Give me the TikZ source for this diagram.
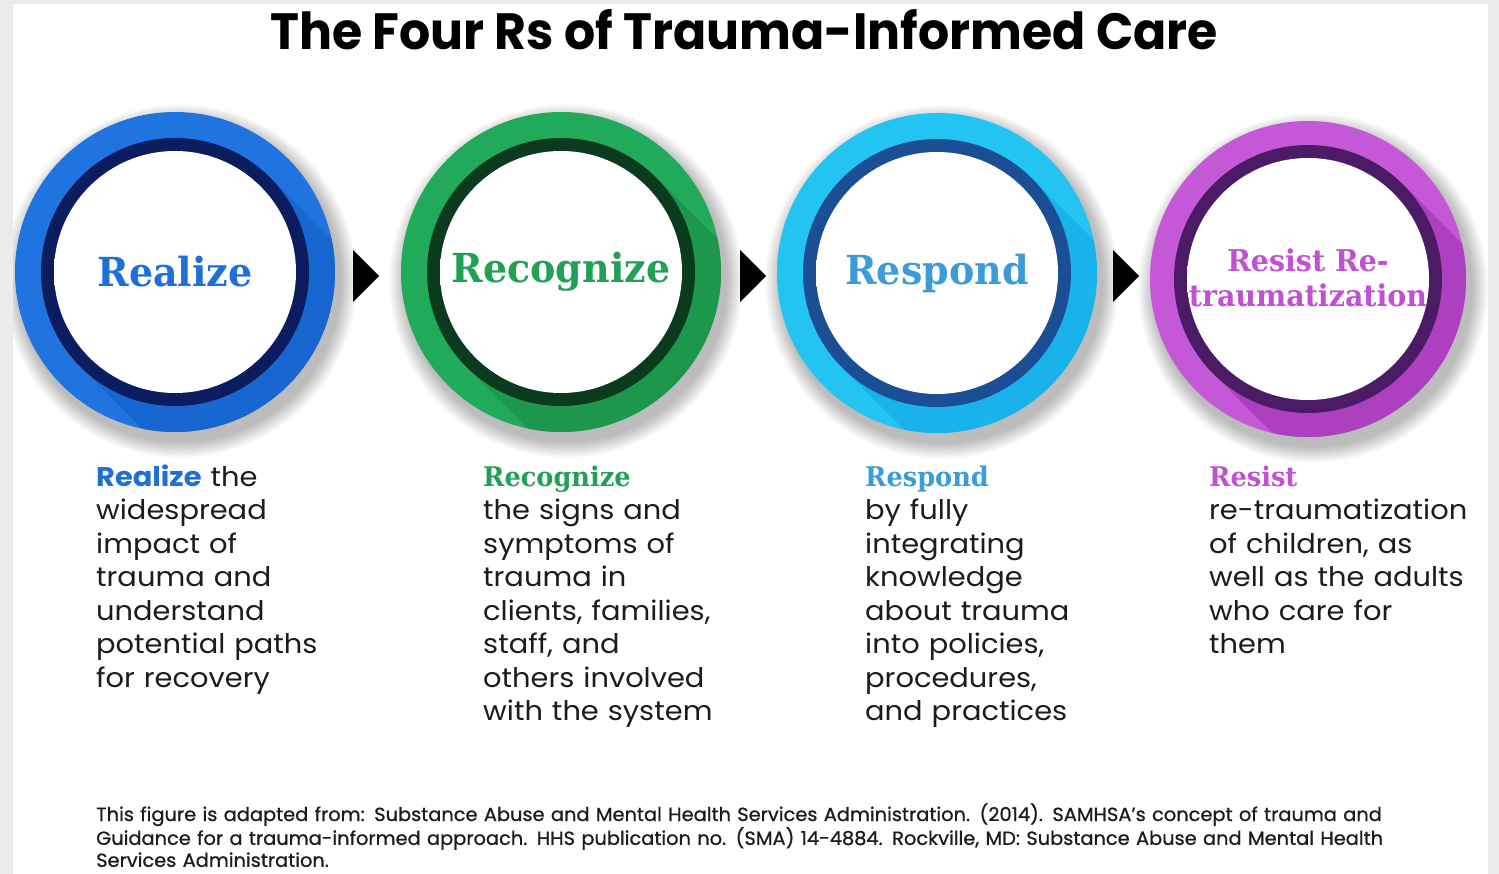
\documentclass[tikz,border=0pt]{standalone}
\usepackage{fontspec}
\setmainfont{Poppins}
\newfontfamily\titlefamily[FakeStretch=0.96]{Poppins}
\newfontfamily\slabfamily[FakeStretch=0.95]{DejaVu Serif}
\newfontfamily\bodyfamily[FakeStretch=1.07]{Poppins}
\newfontfamily\footfamily[FakeStretch=1.02,FakeBold=0.8]{Poppins}
\definecolor{blueL}{HTML}{1F74E0}
\definecolor{blueD}{HTML}{1866CF}
\definecolor{blueN}{HTML}{0B1D5E}
\definecolor{blueT}{HTML}{1F6FD8}
\definecolor{grnL}{HTML}{22AA5B}
\definecolor{grnD}{HTML}{1C974B}
\definecolor{grnN}{HTML}{0A3B1F}
\definecolor{grnT}{HTML}{22A156}
\definecolor{cyL}{HTML}{24C4F2}
\definecolor{cyD}{HTML}{1AB2EA}
\definecolor{cyN}{HTML}{1C4E95}
\definecolor{cyT}{HTML}{3A9CD8}
\definecolor{puL}{HTML}{C458D6}
\definecolor{puD}{HTML}{AC40BE}
\definecolor{puN}{HTML}{4B1B66}
\definecolor{puT}{HTML}{C150D5}
\definecolor{framegray}{HTML}{EBEBEB}
\definecolor{bodyink}{HTML}{1C1C1C}
\pgfdeclareradialshading{diskshade}{\pgfpointorigin}{color(0bp)=(white); color(25bp)=(white); color(35.4bp)=(black!9); color(50bp)=(black!9)}
\tikzset{
  badgelabel/.style={inner sep=0, align=center, font=\slabfamily\bfseries\fontsize{40}{44}\selectfont},
  bodytext/.style={anchor=base west, inner sep=0, text width=330pt, align=left, text=bodyink,
    font=\bodyfamily\fontsize{27}{33.5}\selectfont},
  arrowtri/.style={fill=black},
  shadowlayer/.style={fill=black, opacity=0.02},
}
\newcommand\ringbadge[6]{%
  \begin{scope}[shift={(#1,#2)}]
    \foreach \k in {1,...,14} {\fill[shadowlayer] (5,9) circle ({#6+1.2*\k});}
    \fill[#3] (0,0) circle (#6);
    \begin{scope}
      \clip (0,0) circle (#6);
      \fill[#4] (94.75,-94.75) -- (344.75,155.25) -- (155.25,344.75) -- (-94.75,94.75) -- cycle;
    \end{scope}
    \fill[#5] (0,0) circle (134);
    \shade[shading=diskshade] (0,0) circle (121);
  \end{scope}}
\begin{document}
\begin{tikzpicture}[x=1pt,y=-1pt]
\useasboundingbox (0,0) rectangle (1499,874);
\fill[white] (0,0) rectangle (1499,874);

% badges
\ringbadge{175}{272}{blueL}{blueD}{blueN}{160}
\ringbadge{561}{272}{grnL}{grnD}{grnN}{160}
\ringbadge{937}{273}{cyL}{cyD}{cyN}{160}
\ringbadge{1308}{279}{puL}{puD}{puN}{158}

\node[circle, minimum size=320pt, inner sep=0] (c1) at (175,272) {};
\node[circle, minimum size=320pt, inner sep=0] (c2) at (561,272) {};
\node[circle, minimum size=320pt, inner sep=0] (c3) at (937,273) {};
\node[circle, minimum size=316pt, inner sep=0] (c4) at (1308,279) {};

\node[badgelabel, text=blueT] (l1) at (c1) {Realize};
\node[badgelabel, text=grnT] (l2) at (c2) {Recognize};
\node[badgelabel, text=cyT] (l3) at (c3) {Respond};
\node[badgelabel, text=puT, font=\slabfamily\bfseries\fontsize{30}{35}\selectfont] (l4) at (1308,278) {Resist Re-\\traumatization};

% arrows
\fill[arrowtri] (353,250) -- (379,276) -- (353,302) -- cycle;
\fill[arrowtri] (740,250) -- (766,276) -- (740,302) -- cycle;
\fill[arrowtri] (1113,250) -- (1139,276) -- (1113,302) -- cycle;

% title
\node[anchor=base, inner sep=0, font=\titlefamily\bfseries\fontsize{51}{56}\selectfont] (title) at (744,50) {The Four Rs of Trauma-Informed Care};

% descriptions
\node[bodytext] (d1) at (96,486) {{\color{blueT}\bfseries Realize} the\\widespread\\impact of\\trauma and\\understand\\potential paths\\for recovery};
\node[bodytext] (d2) at (483,486) {{\color{grnT}\slabfamily\bfseries Recognize}\\the signs and\\symptoms of\\trauma in\\clients, families,\\staff, and\\others involved\\with the system};
\node[bodytext] (d3) at (865,486) {{\color{cyT}\slabfamily\bfseries Respond}\\by fully\\integrating\\knowledge\\about trauma\\into policies,\\procedures,\\and practices};
\node[bodytext] (d4) at (1209,486) {{\color{puT}\slabfamily\bfseries Resist}\\re-traumatization\\of children, as\\well as the adults\\who care for\\them};

% source
\node[anchor=base west, inner sep=0, text width=1385pt, align=left, text=bodyink,
  font=\footfamily\fontsize{19}{22}\selectfont] (src) at (96,821)
  {This figure is adapted from: Substance Abuse and Mental Health Services Administration. (2014). SAMHSA’s concept of trauma and\\Guidance for a trauma-informed approach. HHS publication no. (SMA) 14-4884. Rockville, MD: Substance Abuse and Mental Health\\Services Administration.};

% frame
\fill[framegray, even odd rule] (0,0) rectangle (1499,874) (13,4) rectangle (1488,874);
\end{tikzpicture}
\end{document}
